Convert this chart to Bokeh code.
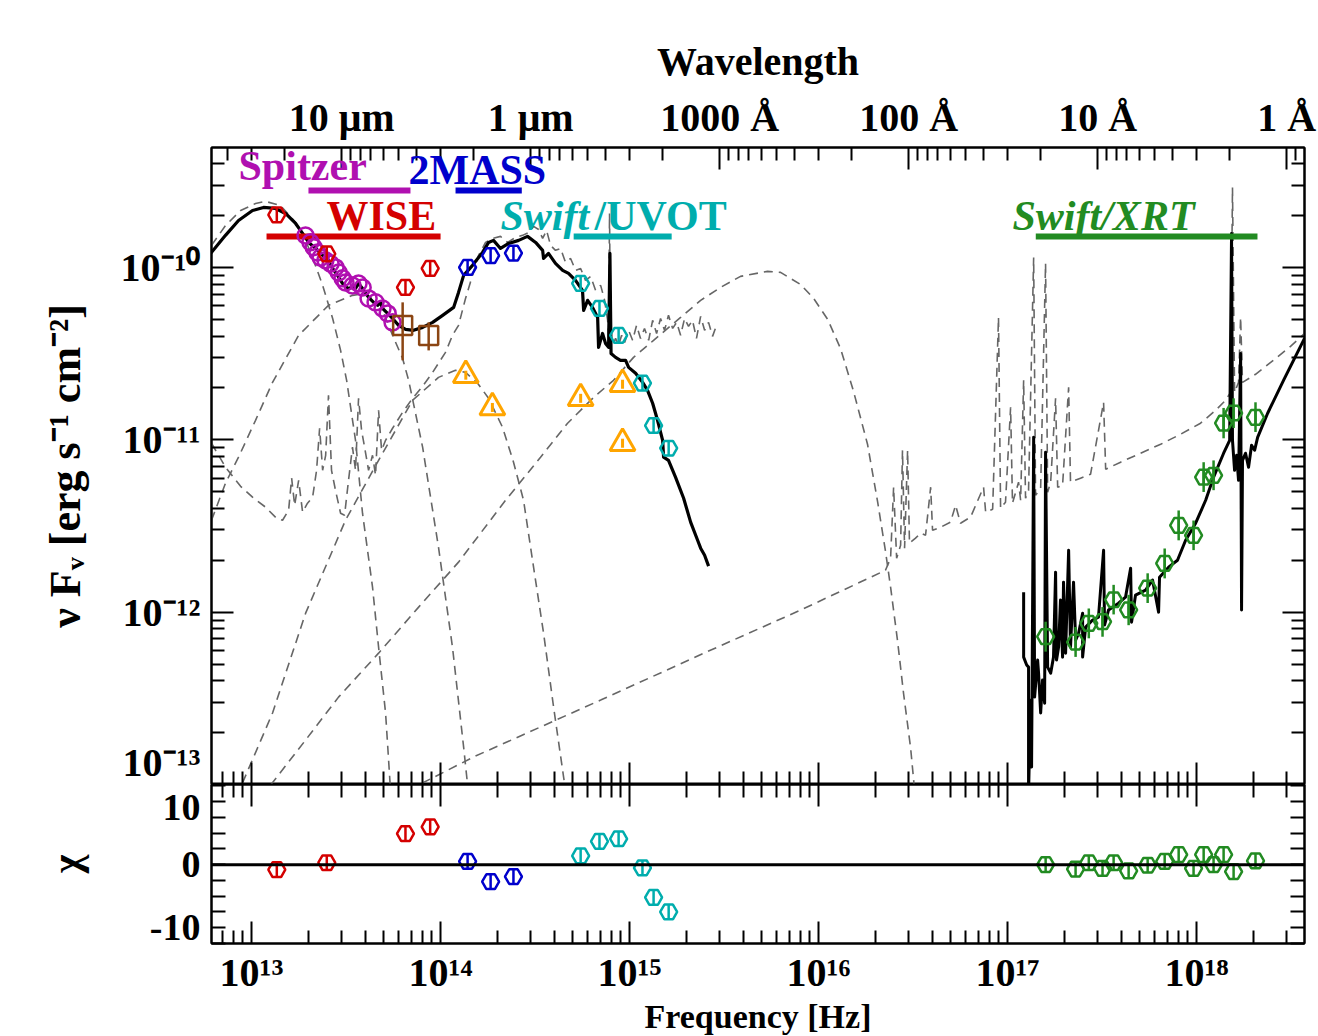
import numpy as np
from bokeh.plotting import figure
from bokeh.models import (LogAxis, LinearAxis, FixedTicker, Label, Span, Range1d,
                          CustomJSTickFormatter)
from bokeh.layouts import column
from bokeh.embed import file_html
from bokeh.resources import INLINE

# ------------------------------------------------------------------ data
C_ANG = 2.99792458e18  # speed of light in Angstrom/s

# Spitzer IRS (binned)
spitzer_nu = [1.93e13, 2.05e13, 2.13e13, 2.23e13, 2.32e13, 2.46e13, 2.62e13, 2.78e13, 2.89e13,
              3.03e13, 3.14e13, 3.42e13, 3.68e13, 3.87e13, 4.16e13, 4.53e13, 4.93e13, 5.25e13, 5.57e13]
spitzer_f = [1.53e-10, 1.40e-10, 1.31e-10, 1.22e-10, 1.14e-10, 1.10e-10, 1.05e-10, 1.00e-10, 9.35e-11,
             8.64e-11, 8.18e-11, 7.86e-11, 8.07e-11, 7.65e-11, 6.61e-11, 6.27e-11, 5.78e-11, 5.41e-11, 4.80e-11]

# WISE
wise_nu = [1.36e13, 2.50e13, 6.52e13, 8.81e13]
wise_f = [2.02e-10, 1.20e-10, 7.65e-11, 9.87e-11]
wise_chi = [-0.8, 0.3, 4.9, 6.0]

# 2MASS
tmass_nu = [1.39e14, 1.84e14, 2.43e14]
tmass_f = [1.00e-10, 1.17e-10, 1.21e-10]
tmass_chi = [0.5, -2.7, -1.9]

# Swift/UVOT
uvot_nu = [5.51e14, 6.93e14, 8.75e14, 1.17e15, 1.34e15, 1.61e15]
uvot_f = [8.07e-11, 5.78e-11, 4.03e-11, 2.13e-11, 1.21e-11, 8.93e-12]
uvot_chi = [1.4, 3.7, 4.1, -0.5, -5.2, -7.5]

# brown squares
sq_nu = [6.30e13, 8.65e13]
sq_f = [4.61e-11, 4.03e-11]
sq_lo = [2.89e-11, 3.30e-11]
sq_hi = [6.27e-11, 4.80e-11]

# orange triangles
tri_nu = [1.36e14, 1.88e14, 5.51e14, 9.18e14, 9.18e14]
tri_f = [2.37e-11, 1.54e-11, 1.74e-11, 2.10e-11, 9.55e-12]

# Swift/XRT
xrt_nu = [1.59e17, 2.29e17, 2.69e17, 3.18e17, 3.64e17, 4.37e17, 5.51e17, 6.78e17, 8.04e17,
          9.64e17, 1.09e18, 1.23e18, 1.39e18, 1.57e18, 2.05e18]
xrt_f = [7.2e-13, 6.7e-13, 8.6e-13, 8.8e-13, 1.18e-12, 1.03e-12, 1.38e-12, 1.92e-12, 3.19e-12,
         2.79e-12, 6.07e-12, 6.22e-12, 1.25e-11, 1.43e-11, 1.35e-11]
xrt_lo = [5.9e-13, 5.5e-13, 7.05e-13, 7.2e-13, 9.7e-13, 8.4e-13, 1.13e-12, 1.57e-12, 2.61e-12,
          2.29e-12, 4.98e-12, 5.1e-12, 1.02e-11, 1.17e-11, 1.11e-11]
xrt_hi = [8.8e-13, 8.2e-13, 1.05e-12, 1.07e-12, 1.44e-12, 1.26e-12, 1.68e-12, 2.34e-12, 3.89e-12,
          3.40e-12, 7.41e-12, 7.59e-12, 1.53e-11, 1.74e-11, 1.65e-11]
xrt_chi = [0.0, -0.7, 0.3, -0.6, 0.3, -1.0, -0.1, 0.5, 1.6, -0.6, 1.6, 0.0, 1.6, -1.1, 0.6]

# instrument coverage bars (frequency ranges)
inst_nu_lo = [2.0e13, 1.2e13, 1.2e14, 5.06e14, 1.41e17]
inst_nu_hi = [6.93e13, 1.0e14, 2.69e14, 1.67e15, 2.10e18]

# ---- model curves: log10(nu/Hz), log10(nuFnu)
tot_lognu = [12.783, 12.862, 12.931, 13.005, 13.063, 13.127, 13.180, 13.233, 13.270, 13.302,
             13.339, 13.376, 13.407, 13.429, 13.455, 13.481, 13.508, 13.534, 13.550, 13.566,
             13.587, 13.619, 13.646, 13.667, 13.683, 13.693, 13.746, 13.778, 13.815, 13.857,
             13.905, 13.958, 14.011, 14.069, 14.095, 14.122, 14.169, 14.222, 14.254, 14.280,
             14.317, 14.360, 14.413, 14.460, 14.503, 14.540, 14.545, 14.571, 14.608, 14.646,
             14.677, 14.714, 14.751, 14.757, 14.778, 14.804, 14.831, 14.836, 14.857, 14.873,
             14.889, 14.896, 14.902, 14.926, 14.952, 14.979, 14.995, 15.032, 15.069, 15.095,
             15.122, 15.148, 15.175, 15.180, 15.206, 15.243, 15.286, 15.323, 15.360, 15.376,
             15.397, 15.418]
tot_logf = [-9.919, -9.814, -9.728, -9.670, -9.652, -9.658, -9.687, -9.745, -9.803, -9.855,
            -9.890, -9.930, -9.959, -10.006, -10.046, -10.093, -10.122, -10.116, -10.122, -10.093,
            -10.122, -10.174, -10.203, -10.220, -10.203, -10.238, -10.296, -10.336, -10.359, -10.365,
            -10.348, -10.319, -10.278, -10.232, -10.145, -10.046, -9.988, -9.913, -9.855, -9.843,
            -9.890, -9.861, -9.843, -9.820, -9.855, -9.901, -9.948, -9.919, -9.977, -10.017,
            -10.035, -10.075, -10.133, -10.249, -10.191, -10.232, -10.290, -10.464, -10.383, -10.441,
            -10.464, -9.919, -10.499, -10.522, -10.539, -10.539, -10.580, -10.614, -10.667, -10.713,
            -10.788, -10.887, -11.003, -11.101, -11.119, -11.217, -11.339, -11.478, -11.583, -11.629,
            -11.670, -11.733]

xray_lognu = [17.085, 17.085, 17.101, 17.111, 17.111, 17.122, 17.127, 17.138, 17.143, 17.159,
              17.164, 17.175, 17.185, 17.196, 17.201, 17.212, 17.228, 17.243, 17.254, 17.259,
              17.270, 17.280, 17.291, 17.296, 17.307, 17.323, 17.333, 17.349, 17.360, 17.376,
              17.397, 17.397, 17.413, 17.450, 17.481, 17.508, 17.513, 17.534, 17.587, 17.624,
              17.651, 17.656, 17.677, 17.730, 17.767, 17.799, 17.804, 17.852, 17.899, 17.942,
              17.995, 18.048, 18.090, 18.143, 18.175, 18.185, 18.190, 18.201, 18.212, 18.222,
              18.233, 18.238, 18.243, 18.259, 18.275, 18.291, 18.307, 18.323, 18.376, 18.460,
              18.571]
xray_logf = [-11.884, -12.261, -12.307, -12.319, -13.05, -12.510, -12.899, -10.986, -12.493, -12.278,
             -12.354, -12.585, -12.394, -12.528, -11.072, -12.319, -12.354, -12.261, -11.768, -12.278,
             -12.203, -11.930, -12.261, -11.826, -12.238, -11.641, -12.203, -11.826, -12.162, -12.122,
             -12.006, -12.261, -12.087, -12.046, -12.029, -11.641, -12.075, -11.988, -11.948, -11.913,
             -11.745, -12.058, -11.901, -11.872, -11.814, -12.000, -11.797, -11.739, -11.699, -11.583,
             -11.484, -11.351, -11.217, -11.078, -11.003, -9.803, -11.003, -11.177, -11.090, -11.235,
             -10.499, -11.988, -11.119, -11.078, -11.159, -11.032, -11.061, -10.986, -10.846, -10.655,
             -10.412]

cold_lognu = [12.788, 12.862, 12.942, 13.021, 13.074, 13.153, 13.233, 13.286, 13.328, 13.376,
              13.429, 13.471, 13.503, 13.550, 13.587, 13.640, 13.672, 13.709, 13.725, 13.735]
cold_logf = [-9.872, -9.757, -9.670, -9.629, -9.617, -9.641, -9.739, -9.843, -9.959, -10.104,
             -10.296, -10.481, -10.655, -11.003, -11.426, -11.855, -12.203, -12.585, -12.858, -13.032]

warm_lognu = [12.788, 12.862, 12.931, 13.021, 13.111, 13.249, 13.407, 13.534, 13.603, 13.683,
              13.746, 13.799, 13.831, 13.905, 13.989, 14.063, 14.122, 14.143]
warm_logf = [-11.467, -11.252, -11.101, -10.887, -10.667, -10.394, -10.220, -10.162, -10.151, -10.220,
             -10.394, -10.528, -10.655, -11.043, -11.623, -12.203, -12.783, -13.003]

hot_lognu = [12.952, 13.111, 13.286, 13.497, 13.672, 13.852, 13.989, 14.079, 14.132, 14.196,
             14.254, 14.328, 14.386, 14.439, 14.492, 14.545, 14.598, 14.651, 14.661]
hot_logf = [-12.991, -12.585, -12.006, -11.467, -11.119, -10.771, -10.638, -10.597, -10.609, -10.672,
            -10.759, -10.928, -11.130, -11.351, -11.739, -12.122, -12.551, -12.957, -13.032]

host_lognu = [12.788, 12.862, 12.942, 13.005, 13.074, 13.132, 13.164, 13.196, 13.212, 13.228,
              13.249, 13.270, 13.296, 13.323, 13.344, 13.360, 13.376, 13.392, 13.407, 13.423,
              13.444, 13.471, 13.492, 13.513, 13.534, 13.550, 13.566, 13.582, 13.598, 13.619,
              13.640, 13.656, 13.672, 13.688, 13.709, 13.746, 13.799, 13.852, 13.905, 13.958,
              14.026, 14.063, 14.095, 14.132, 14.169, 14.201, 14.238, 14.275, 14.317, 14.354,
              14.397, 14.434, 14.466, 14.492, 14.519, 14.540, 14.561, 14.582, 14.608, 14.635,
              14.661, 14.688, 14.714, 14.741, 14.767, 14.794, 14.820, 14.847, 14.868, 14.884,
              14.889, 14.894, 14.899, 14.910, 14.926, 14.942, 14.958, 14.974, 14.995, 15.016,
              15.037, 15.058, 15.079, 15.101, 15.122, 15.143, 15.164, 15.185, 15.206, 15.228,
              15.249, 15.270, 15.291, 15.312, 15.333, 15.354, 15.376, 15.397, 15.418, 15.439,
              15.460]
host_logf = [-11.020, -11.159, -11.270, -11.333, -11.391, -11.455, -11.467, -11.409, -11.223, -11.380,
             -11.235, -11.420, -11.368, -11.333, -11.177, -10.933, -11.177, -11.090, -10.742, -11.177,
             -11.293, -11.426, -11.438, -11.235, -11.043, -11.177, -10.759, -10.945, -11.043, -11.177,
             -11.090, -11.206, -10.829, -11.061, -11.003, -10.933, -10.841, -10.759, -10.690, -10.609,
             -10.493, -10.394, -10.336, -10.180, -10.046, -9.930, -9.855, -9.832, -9.820, -9.855,
             -9.826, -9.814, -9.797, -9.762, -9.780, -9.832, -9.786, -9.872, -9.901, -9.890,
             -9.971, -9.948, -10.017, -10.006, -10.075, -10.052, -10.133, -10.104, -10.191, -10.307,
             -10.412, -9.687, -10.423, -10.452, -10.412, -10.452, -10.394, -10.435, -10.365, -10.423,
             -10.336, -10.412, -10.354, -10.423, -10.307, -10.383, -10.296, -10.365, -10.278, -10.354,
             -10.319, -10.394, -10.296, -10.342, -10.307, -10.412, -10.284, -10.365, -10.319, -10.400,
             -10.336]

disk_lognu = [13.101, 13.286, 13.460, 13.672, 13.884, 14.095, 14.344, 14.529, 14.672, 14.810,
              14.915, 15.021, 15.127, 15.270, 15.376, 15.481, 15.587, 15.730, 15.799, 15.905,
              15.974, 16.048, 16.116, 16.185, 16.259, 16.312, 16.354, 16.381, 16.418, 16.450,
              16.487, 16.508]
disk_logf = [-13.003, -12.742, -12.493, -12.238, -11.971, -11.710, -11.351, -11.101, -10.904, -10.754,
             -10.655, -10.522, -10.423, -10.290, -10.191, -10.116, -10.052, -10.023, -10.029, -10.099,
             -10.180, -10.301, -10.470, -10.719, -11.026, -11.357, -11.646, -11.855, -12.168, -12.475,
             -12.788, -13.032]

pl_lognu = [13.831, 14.185, 14.847, 15.418, 15.905, 16.354, 16.381, 16.397, 16.413, 16.434,
            16.444, 16.455, 16.471, 16.481, 16.513, 16.540, 16.566, 16.593, 16.603, 16.646,
            16.698, 16.725, 16.751, 16.804, 16.873, 16.884, 16.921, 16.952, 16.963, 16.989,
            17.016, 17.026, 17.058, 17.069, 17.085, 17.095, 17.111, 17.138, 17.148, 17.175,
            17.201, 17.212, 17.228, 17.254, 17.265, 17.291, 17.323, 17.333, 17.386, 17.439,
            17.508, 17.519, 17.598, 17.704, 17.810, 17.915, 18.021, 18.101, 18.153, 18.180,
            18.190, 18.201, 18.222, 18.233, 18.243, 18.312, 18.392, 18.497, 18.571]
pl_logf = [-13.032, -12.835, -12.510, -12.226, -11.988, -11.757, -11.687, -11.275, -11.687, -11.612,
           -11.061, -11.629, -11.061, -11.600, -11.571, -11.542, -11.554, -11.275, -11.525, -11.507,
           -11.478, -11.380, -11.484, -11.449, -11.275, -11.420, -11.403, -10.290, -11.397, -11.362,
           -10.812, -11.368, -11.246, -11.351, -10.655, -11.339, -11.293, -9.942, -11.322, -11.281,
           -9.977, -11.304, -11.246, -10.759, -11.275, -11.264, -10.696, -11.246, -11.223, -11.200,
           -10.783, -11.171, -11.130, -11.078, -11.026, -10.968, -10.904, -10.829, -10.771, -10.725,
           -9.536, -10.725, -10.667, -10.290, -10.667, -10.620, -10.551, -10.458, -10.383]

# ------------------------------------------------------------------ style / geometry
FONT = "Liberation Serif"
GREY = "#666666"
MAG, RED, BLUE, CYAN, GREEN = "#b010b0", "#d40000", "#0000cc", "#00adad", "#228b22"
ORANGE, BROWN = "#ffa500", "#8b4513"

LX0, LX1 = 12.788, 18.571
LY0, LY1 = -13.0, -9.3043
FL, FR, FT, FB = 211, 1304, 147, 784
FW, FH = FR - FL, FB - FT
R_LO, R_HI = -12.5, 12.7
R_T, R_B = 784, 943


def xd(px):
    return 10 ** (LX0 + (px - FL) * (LX1 - LX0) / FW)


def yd(py):
    return 10 ** (LY0 + (FB - py) * (LY1 - LY0) / FH)


def p10(a):
    return np.power(10.0, np.array(a))


SUP_JS = """
const sup = {"-": "\u207b", "0": "\u2070", "1": "\u00b9", "2": "\u00b2", "3": "\u00b3",
             "4": "\u2074", "5": "\u2075", "6": "\u2076", "7": "\u2077", "8": "\u2078", "9": "\u2079"};
const e = Math.round(Math.log10(tick));
return "10" + String(e).split("").map(c => sup[c]).join("");
"""
WL_JS = """
const lam = 2.99792458e18 / tick;
if (lam >= 9999) { return Math.round(lam / 1e4) + " \u03bcm"; }
return Math.round(lam) + " \u00c5";
"""
BLANK_JS = "return '';"
CHI_JS = "return (Math.round(tick / 10) * 10).toFixed(0);"


def make_axis(cls, ticker, maj=0, mnr=0, fmt=BLANK_JS, size=0, standoff=0, line=True,
              label=None, label_size=40, label_standoff=5):
    ax = cls(ticker=ticker, formatter=CustomJSTickFormatter(code=fmt))
    ax.major_tick_in = maj
    ax.major_tick_out = 0
    ax.minor_tick_in = mnr
    ax.minor_tick_out = 0
    ax.major_tick_line_width = 2
    ax.minor_tick_line_width = 2
    ax.major_tick_line_color = "black" if maj else None
    ax.minor_tick_line_color = "black" if mnr else None
    ax.axis_line_width = 2
    ax.axis_line_color = "black" if line else None
    ax.major_label_text_font = FONT
    ax.major_label_text_font_style = "bold"
    ax.major_label_text_color = "black"
    ax.major_label_text_font_size = f"{size}px"
    ax.major_label_standoff = standoff
    if label is not None:
        ax.axis_label = label
        ax.axis_label_text_font = FONT
        ax.axis_label_text_font_style = "bold"
        ax.axis_label_text_font_size = f"{label_size}px"
        ax.axis_label_text_color = "black"
        ax.axis_label_standoff = label_standoff
    return ax


def lab(p, x, y, text, size, color="black", style="bold"):
    p.add_layout(Label(x=x, y=y, text=text, text_font=FONT, text_font_size=f"{size}px",
                       text_font_style=style, text_color=color, text_align="left",
                       text_baseline="alphabetic"))


freq_major = [10.0 ** k for k in range(13, 19)]
freq_minor = [m * 10.0 ** k for k in range(12, 19) for m in range(2, 10)]
flux_major = [10.0 ** k for k in range(-13, -9)]
flux_minor = [m * 10.0 ** k for k in range(-13, -9) for m in range(2, 10)]
lam_major = [1e5, 1e4, 1e3, 1e2, 1e1, 1e0]
lam_minor = [m * 10.0 ** k for k in range(-1, 6) for m in range(2, 10)]
wl_major = [C_ANG / l for l in lam_major]
wl_minor = [C_ANG / l for l in lam_minor]
# y tick label anchors (the labels nearest the panel joint are nudged away from it)
ylab_pos = [yd(764), 1e-12, 1e-11, 1e-10]
chi_major = [-10, 0, 10]
chi_minor = [-12.5, -7.5, -5, -2.5, 2.5, 5, 7.5, 12.5]
chilab_pos = [-10, 0, 9.0]

# ------------------------------------------------------------------ main panel
xr = Range1d(10 ** LX0, 10 ** LX1)
p1 = figure(frame_width=FW, frame_height=FH, x_axis_type="log", y_axis_type="log",
            x_range=xr, y_range=Range1d(10 ** LY0, 10 ** LY1),
            x_axis_location=None, y_axis_location=None,
            min_border_left=FL, min_border_right=1318 - FR, min_border_top=FT, min_border_bottom=0,
            toolbar_location=None, output_backend="svg")
p1.grid.visible = False
p1.outline_line_color = "black"
p1.outline_line_width = 2
p1.background_fill_color = "white"
p1.border_fill_color = "white"

p1.add_layout(make_axis(LogAxis, FixedTicker(ticks=flux_major, minor_ticks=flux_minor), 22, 13), "left")
p1.add_layout(make_axis(LogAxis, FixedTicker(ticks=ylab_pos, minor_ticks=[]), fmt=SUP_JS, size=40,
                        standoff=11, line=False,
                        label="\u03bd F\u1d65 [erg s\u207b\u00b9 cm\u207b\u00b2]", label_size=44,
                        label_standoff=28), "left")
p1.add_layout(make_axis(LogAxis, FixedTicker(ticks=flux_major, minor_ticks=flux_minor), 22, 13), "right")
p1.add_layout(make_axis(LogAxis, FixedTicker(ticks=wl_major, minor_ticks=wl_minor), 22, 13, fmt=WL_JS,
                        size=40, standoff=8, label="Wavelength", label_standoff=8), "above")
p1.add_layout(make_axis(LogAxis, FixedTicker(ticks=freq_major, minor_ticks=freq_minor), 22, 13), "below")

dash = "9 6"
for lnu, lf in [(cold_lognu, cold_logf), (warm_lognu, warm_logf), (hot_lognu, hot_logf),
                (host_lognu, host_logf), (disk_lognu, disk_logf), (pl_lognu, pl_logf)]:
    p1.line(p10(lnu), p10(lf), line_color=GREY, line_width=1.6, line_dash=dash)

p1.line(p10(tot_lognu), p10(tot_logf), line_color="black", line_width=3.2, line_join="round")
p1.line(p10(xray_lognu), p10(xray_logf), line_color="black", line_width=3.0, line_join="round")

# instrument coverage bars
bar_py = [190, 236, 190, 236, 236]
bar_col = [MAG, RED, BLUE, CYAN, GREEN]
for lo, hi, py, col in zip(inst_nu_lo, inst_nu_hi, bar_py, bar_col):
    p1.segment(x0=[lo], y0=[yd(py)], x1=[hi], y1=[yd(py)], line_color=col, line_width=6)

# data
p1.scatter(spitzer_nu, spitzer_f, marker="circle", size=16, fill_color=None,
           line_color=MAG, line_width=2.5)
p1.segment(x0=sq_nu, y0=sq_lo, x1=sq_nu, y1=sq_hi, line_color=BROWN, line_width=2.5)
p1.scatter(sq_nu, sq_f, marker="square", size=19, fill_color=None, line_color=BROWN, line_width=2.5)
p1.scatter(tri_nu, tri_f, marker="triangle", size=25, fill_color=None, line_color=ORANGE, line_width=3)
p1.scatter(tri_nu, tri_f, marker="dash", angle=np.pi / 2, size=9, line_color=ORANGE, line_width=3)
p1.segment(x0=xrt_nu, y0=xrt_lo, x1=xrt_nu, y1=xrt_hi, line_color=GREEN, line_width=2.5)
for nu, f, col in [(wise_nu, wise_f, RED), (tmass_nu, tmass_f, BLUE), (uvot_nu, uvot_f, CYAN),
                   (xrt_nu, xrt_f, GREEN)]:
    p1.scatter(nu, f, marker="hex", size=17, fill_color=None, line_color=col, line_width=2.5)
    p1.scatter(nu, f, marker="dash", angle=np.pi / 2, size=15, line_color=col, line_width=2.5)

# instrument labels (inside the frame)
lab(p1, xd(238), yd(165), "Spitzer", 42, MAG)
lab(p1, xd(408), yd(169), "2MASS", 42, BLUE)
lab(p1, xd(326), yd(215), "WISE", 42, RED)
lab(p1, xd(500), yd(215), "Swift", 42, CYAN, style="bold italic")
lab(p1, xd(594), yd(215), "/UVOT", 42, CYAN)
lab(p1, xd(1012), yd(215), "Swift/XRT", 42, GREEN, style="bold italic")

# ------------------------------------------------------------------ residual panel
p2 = figure(frame_width=FW, frame_height=R_B - R_T, x_axis_type="log", x_range=xr,
            y_range=Range1d(R_LO, R_HI), x_axis_location=None, y_axis_location=None,
            min_border_left=FL, min_border_right=1318 - FR, min_border_top=0, min_border_bottom=93,
            toolbar_location=None, output_backend="svg")
p2.grid.visible = False
p2.outline_line_color = "black"
p2.outline_line_width = 2
p2.border_fill_color = "white"

p2.add_layout(make_axis(LinearAxis, FixedTicker(ticks=chi_major, minor_ticks=chi_minor), 14, 14), "left")
p2.add_layout(make_axis(LinearAxis, FixedTicker(ticks=chilab_pos, minor_ticks=[]), fmt=CHI_JS, size=38,
                        standoff=11, line=False, label="\u03c7", label_standoff=58), "left")
p2.add_layout(make_axis(LinearAxis, FixedTicker(ticks=chi_major, minor_ticks=chi_minor), 14, 14), "right")
p2.add_layout(make_axis(LogAxis, FixedTicker(ticks=freq_major, minor_ticks=freq_minor), 22, 13), "above")
p2.add_layout(make_axis(LogAxis, FixedTicker(ticks=freq_major, minor_ticks=freq_minor), 22, 13,
                        fmt=SUP_JS, size=40, standoff=6, label="Frequency [Hz]", label_size=34,
                        label_standoff=0), "below")

p2.add_layout(Span(location=0, dimension="width", line_color="black", line_width=3))
for nu, chi, col in [(wise_nu, wise_chi, RED), (tmass_nu, tmass_chi, BLUE),
                     (uvot_nu, uvot_chi, CYAN), (xrt_nu, xrt_chi, GREEN)]:
    p2.scatter(nu, chi, marker="hex", size=17, fill_color=None, line_color=col, line_width=2.5)
    p2.scatter(nu, chi, marker="dash", angle=np.pi / 2, size=15, line_color=col, line_width=2.5)

layout = column(p1, p2, spacing=0)
open("out.html", "w").write(file_html(layout, INLINE))
